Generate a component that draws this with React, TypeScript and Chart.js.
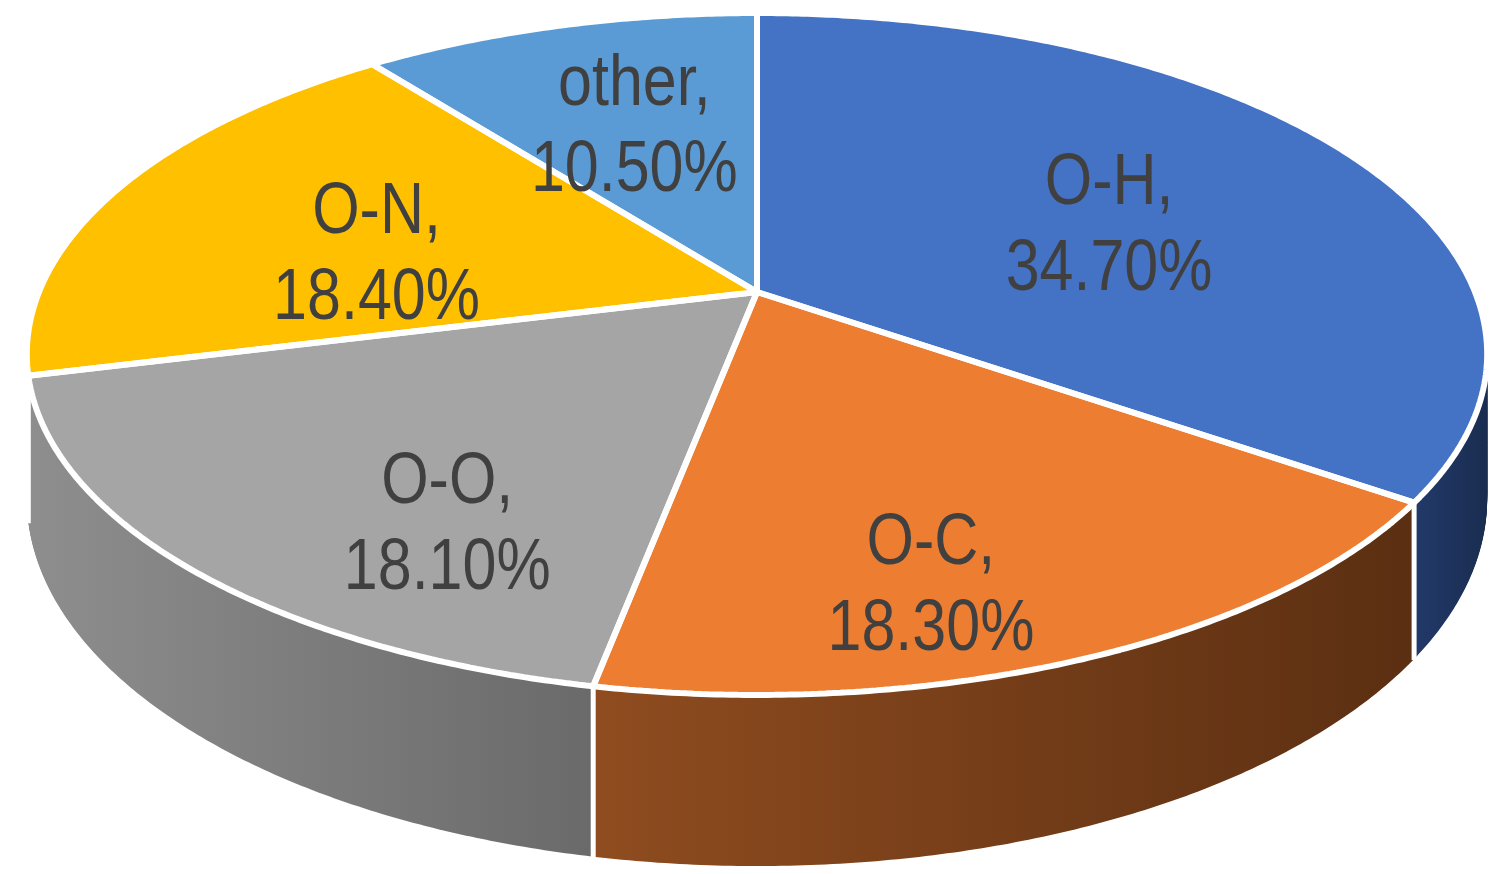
import React, { useEffect, useRef } from 'react';
import Chart from 'chart.js/auto';

const categories = ['O-H', 'O-C', 'O-O', 'O-N', 'other'];
const shares = [34.7, 18.3, 18.1, 18.4, 10.5];
const topColors = ['#4472C4', '#ED7D31', '#A5A5A5', '#FFC000', '#5B9BD5'];
// light -> dark stops for the side walls
const sideColors = [
  ['#22396A', '#1A2D50'],
  ['#8F4C1F', '#5B2F12'],
  ['#8E8E8E', '#6A6A6A'],
  ['#B38600', '#8A6800'],
  ['#3E6E99', '#2F5577'],
];

// simple perspective camera for the tilted disc
const CX = 757;
const A = 718; // horizontal scale
const E = 276.6; // vertical scale
const F = 292; // screen y of the pie centre
const H = -0.1818; // perspective strength
const D0 = 140; // wall height
const LABEL_RX = 0.58;
const LABEL_RY = 0.72;
const LABEL_DEPTH = 0.25;

const pie3d = {
  id: 'pie3d',
  beforeDatasetsDraw(chart: any) {
    const ctx: CanvasRenderingContext2D = chart.ctx;
    const arcs: any[] = chart.getDatasetMeta(0).data;
    if (!arcs.length) return false;
    const { x: ox, y: oy, outerRadius: R } = arcs[0];

    let depth = 0;
    const proj = (px: number, py: number, s: number) => {
      const u = (px - ox) / R;
      const v = (py - oy) / R;
      const w = 1 + H * v;
      return { x: CX + (A * u) / w, y: (E * v + F) / w + (s * D0) / w };
    };

    // context that bends every path point through the camera
    const pctx: any = new Proxy(ctx, {
      get(t: any, p: string) {
        if (p === 'moveTo' || p === 'lineTo') {
          return (x: number, y: number) => {
            const q = proj(x, y, depth);
            t[p](q.x, q.y);
          };
        }
        if (p === 'arc') {
          return (x: number, y: number, r: number, a0: number, a1: number, ccw?: boolean) => {
            if (r <= 0) {
              const q = proj(x, y, depth);
              t.lineTo(q.x, q.y);
              return;
            }
            if (!ccw) while (a1 < a0) a1 += 2 * Math.PI;
            else while (a1 > a0) a1 -= 2 * Math.PI;
            const n = Math.max(2, Math.ceil(Math.abs(a1 - a0) * 120));
            for (let k = 0; k <= n; k++) {
              const a = a0 + ((a1 - a0) * k) / n;
              const q = proj(x + r * Math.cos(a), y + r * Math.sin(a), depth);
              t.lineTo(q.x, q.y);
            }
          };
        }
        const v = t[p];
        return typeof v === 'function' ? v.bind(t) : v;
      },
      set(t: any, p: string, v: any) {
        t[p] = v;
        return true;
      },
    });

    ctx.save();

    // walls, back to front
    const dist = (a: number) => {
      let d = a - Math.PI / 2;
      while (d > Math.PI) d -= 2 * Math.PI;
      while (d < -Math.PI) d += 2 * Math.PI;
      return Math.abs(d);
    };
    const order = arcs
      .map((a, i) => ({ a, i, d: dist((a.startAngle + a.endAngle) / 2) }))
      .sort((p, q) => q.d - p.d);

    const layers = 170;
    for (const { a, i } of order) {
      let minX = Infinity, maxX = -Infinity;
      for (let k = 0; k <= 60; k++) {
        const t = a.startAngle + ((a.endAngle - a.startAngle) * k) / 60;
        if (Math.sin(t) < 0) continue;
        const q = proj(ox + R * Math.cos(t), oy + R * Math.sin(t), 0);
        minX = Math.min(minX, q.x);
        maxX = Math.max(maxX, q.x);
      }
      if (!(minX < maxX)) { minX = CX - A; maxX = CX + A; }
      const grad = ctx.createLinearGradient(minX, 0, maxX, 0);
      grad.addColorStop(0, sideColors[i][0]);
      grad.addColorStop(1, sideColors[i][1]);
      const side = Object.create(a);
      side.options = { ...a.options, backgroundColor: grad, borderWidth: 0 };
      for (let k = layers; k >= 1; k--) {
        depth = k / layers;
        side.draw(pctx);
      }
    }

    // white seams between the walls
    ctx.strokeStyle = '#ffffff';
    ctx.lineWidth = 5;
    for (const a of arcs) {
      const t = a.startAngle;
      if (Math.sin(t) <= 0.02) continue;
      const p0 = proj(ox + R * Math.cos(t), oy + R * Math.sin(t), 0);
      const p1 = proj(ox + R * Math.cos(t), oy + R * Math.sin(t), 1);
      ctx.beginPath();
      ctx.moveTo(p0.x, p0.y);
      ctx.lineTo(p1.x, p1.y + 1);
      ctx.stroke();
    }

    // top faces: all fills first, then all white borders
    depth = 0;
    for (const a of arcs) {
      const face = Object.create(a);
      face.options = { ...a.options, borderWidth: 0 };
      face.draw(pctx);
    }
    for (const a of arcs) {
      const edge = Object.create(a);
      edge.options = { ...a.options, backgroundColor: 'rgba(0,0,0,0)' };
      edge.draw(pctx);
    }

    ctx.restore();

    // remember the camera for the labels
    chart.$pie3d = { proj };
    return false;
  },
  afterDraw(chart: any) {
    const ctx: CanvasRenderingContext2D = chart.ctx;
    const arcs: any[] = chart.getDatasetMeta(0).data;
    if (!arcs.length || !chart.$pie3d) return;
    const { proj } = chart.$pie3d;
    const { x: ox, y: oy, outerRadius: R } = arcs[0];
    ctx.save();
    ctx.fillStyle = '#404040';
    ctx.font = '61px "Liberation Sans", Arial, sans-serif';
    ctx.textAlign = 'center';
    ctx.textBaseline = 'alphabetic';
    arcs.forEach((a, i) => {
      const mid = (a.startAngle + a.endAngle) / 2;
      const qx = proj(ox + LABEL_RX * R * Math.cos(mid), oy + LABEL_RX * R * Math.sin(mid), 0).x;
      const qy = proj(ox + LABEL_RY * R * Math.cos(mid), oy + LABEL_RY * R * Math.sin(mid), LABEL_DEPTH).y;
      const lines = [categories[i] + ',', shares[i].toFixed(2) + '%'];
      [qy - 18, qy + 68].forEach((by, k) => {
        ctx.save();
        ctx.translate(qx, by);
        ctx.scale(1, 1.18);
        ctx.fillText(lines[k], 0, 0);
        ctx.restore();
      });
    });
    ctx.restore();
  },
};

const App: React.FC = () => {
  const chartRef = useRef<HTMLCanvasElement | null>(null);
  const chartInstanceRef = useRef<Chart | null>(null);

  useEffect(() => {
    document.body.style.margin = '0';
    if (!chartRef.current) return;
    if (chartInstanceRef.current) chartInstanceRef.current.destroy();
    chartInstanceRef.current = new Chart(chartRef.current, {
      type: 'pie',
      data: {
        labels: categories,
        datasets: [
          {
            data: shares,
            backgroundColor: topColors,
            borderColor: '#ffffff',
            borderWidth: 6,
          },
        ],
      },
      options: {
        responsive: false,
        animation: false,
        events: [],
        layout: { padding: 0 },
        plugins: {
          legend: { display: false },
          tooltip: { enabled: false },
        },
      },
      plugins: [pie3d],
    });
    return () => {
      if (chartInstanceRef.current) {
        chartInstanceRef.current.destroy();
        chartInstanceRef.current = null;
      }
    };
  }, []);

  return (
    <div style={{ position: 'absolute', left: 0, top: 0, width: 1502, height: 874, background: '#fff' }}>
      <canvas ref={chartRef} width={1502} height={874} />
    </div>
  );
};

export default App;
